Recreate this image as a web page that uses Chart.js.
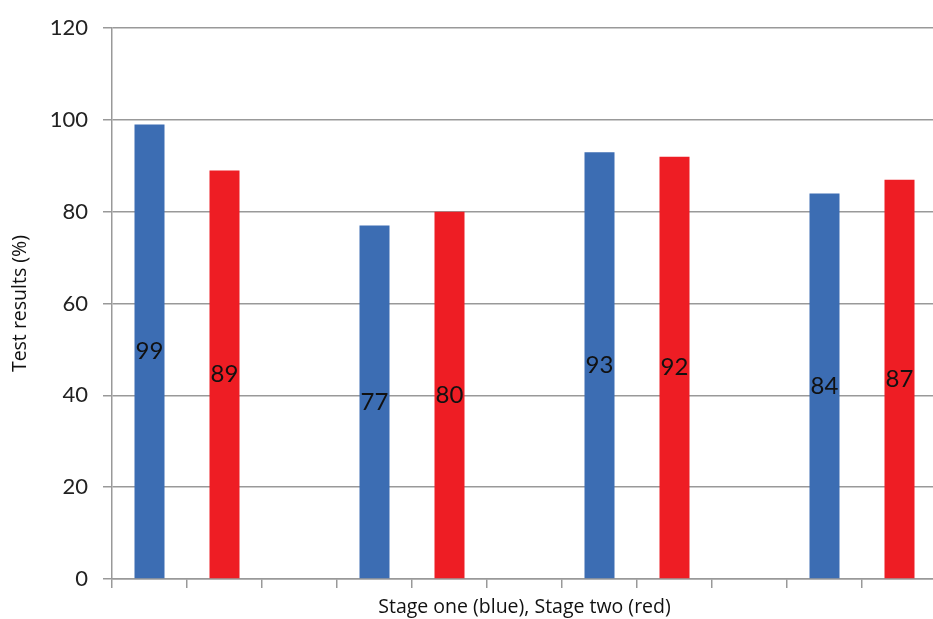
<!DOCTYPE html>
<html>
<head>
<meta charset="utf-8">
<script src="https://cdn.jsdelivr.net/npm/chart.js@4"></script>
<style>
    html, body { margin: 0; padding: 0; background: #fff; overflow: hidden; }
    #wrap { width: 933px; height: 619px; overflow: hidden; }
</style>
</head>
<body>
<div id="wrap"><canvas id="results" width="937" height="619"></canvas></div>
<script>
const stageOne = [99, 77, 93, 84];
const stageTwo = [89, 80, 92, 87];
const yTicks = [0, 20, 40, 60, 80, 100, 120];
const blue = '#3c6db3';
const red = '#ee1d24';

// blue, red, gap, blue, red, gap ... (11 slots)
const values = [];
const colors = [];
stageOne.forEach((v, i) => {
    values.push(v, stageTwo[i]);
    colors.push(blue, red);
    if (i < stageOne.length - 1) {
        values.push(null);
        colors.push('rgba(0,0,0,0)');
    }
});
const labels = values.map(() => '');

const fontFamily = 'Lato, "Open Sans", sans-serif';
const titleFamily = '"Open Sans", Lato, sans-serif';

const barLabels = {
    id: 'barLabels',
    afterDatasetsDraw(chart) {
        const ctx = chart.ctx;
        const meta = chart.getDatasetMeta(0);
        ctx.save();
        ctx.font = '24px ' + fontFamily;
        ctx.fillStyle = '#111';
        ctx.textAlign = 'center';
        ctx.textBaseline = 'middle';
        meta.data.forEach((bar, i) => {
            if (values[i] == null) return;
            ctx.fillText(values[i], bar.x, (bar.y + bar.base) / 2);
        });
        ctx.restore();
    }
};

new Chart(document.getElementById('results'), {
    type: 'bar',
    data: {
        labels: labels,
        datasets: [{
            data: values,
            backgroundColor: colors,
            borderWidth: 0,
            categoryPercentage: 1,
            barPercentage: 0.4
        }]
    },
    options: {
        responsive: false,
        animation: false,
        layout: { padding: { top: 18, right: 0, left: 0, bottom: 0 } },
        plugins: {
            legend: { display: false },
            tooltip: { enabled: false }
        },
        scales: {
            x: {
                offset: true,
                grid: {
                    offset: true,
                    drawOnChartArea: false,
                    color: '#999',
                    tickLength: 9,
                    lineWidth: 1.5
                },
                border: { color: '#999', width: 1.5 },
                ticks: { display: true, font: { size: 1 } },
                title: {
                    display: true,
                    text: 'Stage one (blue), Stage two (red)',
                    font: { family: titleFamily, size: 19.5 },
                    color: '#111',
                    padding: { top: 0, bottom: 0 }
                },
                afterFit(scale) { scale.height = 40; }
            },
            y: {
                min: 0,
                max: 120,
                afterBuildTicks(scale) { scale.ticks = yTicks.map(v => ({ value: v })); },
                grid: { color: '#999', tickLength: 9, lineWidth: 1.5 },
                border: { color: '#999', width: 1.5 },
                ticks: {
                    font: { family: fontFamily, size: 22 },
                    color: '#222',
                    padding: 15
                },
                title: {
                    display: true,
                    text: 'Test results (%)',
                    font: { family: titleFamily, size: 19.5 },
                    color: '#111',
                    padding: { top: 9, bottom: 4 }
                },
                afterFit(scale) { scale.width = 112; }
            }
        }
    },
    plugins: [barLabels]
});
</script>
</body>
</html>
